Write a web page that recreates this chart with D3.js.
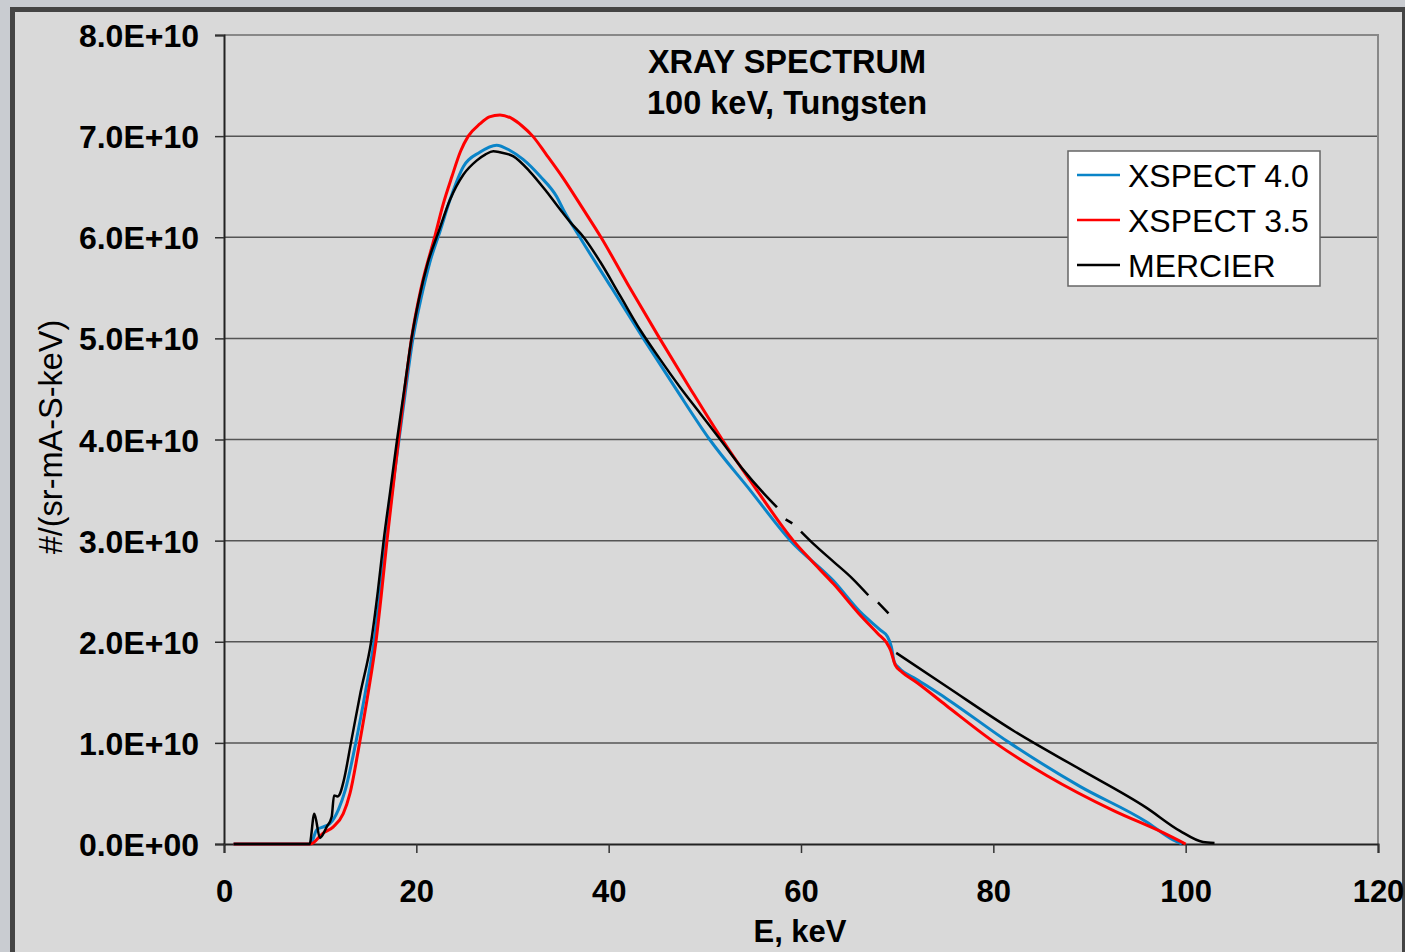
<!DOCTYPE html>
<html>
<head>
<meta charset="utf-8">
<script src="https://cdn.jsdelivr.net/npm/d3@7"></script>
<style>
  html, body { margin: 0; padding: 0; background: #c9ccd1; overflow: hidden; }
  svg { display: block; font-family: "Liberation Sans", Arial, sans-serif; }
</style>
</head>
<body>
<svg id="chart" width="1405" height="952"></svg>
<script>
// energies (keV) and intensities (#/(sr-mA-S-keV), in units of 1E+10)
const xspect40E = [1, 9.0, 9.64, 10.33, 11.0, 11.9, 12.6, 13.7, 14.7, 15.6, 16.25, 16.85, 17.5, 18.2, 18.9, 19.65, 20.5, 21.4, 22.5, 23.5, 24.9, 26.6, 28.35, 29.7, 31.1, 32.9, 34.6, 35.3, 37.0, 40.3, 43.6, 47.0, 50.5, 54.7, 58.9, 63.4, 66.1, 68.2, 69.0, 69.4, 69.7, 70.2, 72.0, 75.1, 81.7, 89.0, 95.9, 98.7, 99.6];
const xspect40V = [0, 0, 0.14, 0.17, 0.20, 0.34, 0.53, 1.0, 1.5, 2.0, 2.5, 3.0, 3.5, 4.0, 4.5, 5.0, 5.4, 5.75, 6.07, 6.37, 6.7, 6.84, 6.91, 6.86, 6.77, 6.6, 6.4, 6.27, 6.0, 5.5, 5.0, 4.5, 4.0, 3.5, 3.0, 2.6, 2.3, 2.12, 2.05, 1.95, 1.8, 1.74, 1.63, 1.44, 1.0, 0.57, 0.22, 0.04, 0];

const xspect35E = [1, 9.0, 10.33, 11.37, 12.4, 13.1, 14.1, 15.0, 15.8, 16.4, 16.95, 17.55, 18.15, 18.8, 19.5, 20.5, 21.9, 22.8, 23.7, 24.6, 25.4, 26.6, 27.6, 28.7, 30.0, 31.0, 32.1, 33.5, 35.3, 37.2, 39.2, 42.2, 45.3, 48.5, 51.8, 55.4, 59.2, 61.0, 63.4, 66.0, 68.0, 68.9, 69.3, 69.8, 70.5, 72.0, 75.1, 80.2, 85.5, 92.5, 97.7, 100.0];
const xspect35V = [0, 0, 0.11, 0.17, 0.30, 0.5, 1.0, 1.5, 2.0, 2.5, 3.0, 3.5, 4.0, 4.5, 5.0, 5.5, 6.0, 6.33, 6.6, 6.85, 7.0, 7.12, 7.19, 7.21, 7.17, 7.1, 7.0, 6.82, 6.58, 6.3, 6.0, 5.5, 5.0, 4.5, 4.0, 3.5, 3.0, 2.81, 2.57, 2.28, 2.08, 1.99, 1.92, 1.77, 1.70, 1.60, 1.37, 1.0, 0.68, 0.33, 0.11, 0];

// null = gap in the MERCIER trace
const mercierE = [1, 8.9, 9.39, 9.98, 10.68, 11.2, 11.44, 11.8, 12.07, 12.46, 13.2, 14.2, 15.3, 16.0, 16.6, 17.3, 18.0, 18.75, 19.5, 20.3, 21.2, 22.3, 23.5, 24.9, 26.3, 27.2, 28.0, 28.7, 30.1, 31.8, 33.55, 35.0, 36.0, 37.4, 39.1, 41.2, 43.3, 45.3, 47.4, 49.5, 51.6, 54.0, 56.1, 57.5, 58.0, 58.4, 59.1, 59.5, 60.0, 61.5, 63.4, 65.4, 67.0, 67.5, 68.0, 69.1, 69.5, 69.9, 75.1, 82.1, 89.0, 95.9, 99.4, 101.8, 103.0];
const mercierV = [0, 0, 0.30, 0.06, 0.17, 0.27, 0.48, 0.47, 0.50, 0.63, 1.0, 1.5, 2.0, 2.5, 3.0, 3.5, 4.0, 4.5, 5.0, 5.4, 5.75, 6.05, 6.37, 6.62, 6.76, 6.82, 6.85, 6.84, 6.8, 6.65, 6.45, 6.27, 6.15, 6.0, 5.76, 5.42, 5.08, 4.8, 4.52, 4.26, 4.0, 3.70, 3.47, 3.33, null, 3.21, 3.17, null, 3.09, 2.95, 2.79, 2.62, 2.46, null, 2.39, 2.28, null, 1.89, 1.56, 1.12, 0.74, 0.36, 0.13, 0.02, 0.01];

const seriesNames = ["XSPECT 4.0", "XSPECT 3.5", "MERCIER"];
const seriesColors = ["#0a84c8", "#ff0000", "#000000"];
const yTicks = [0, 1e10, 2e10, 3e10, 4e10, 5e10, 6e10, 7e10, 8e10];
const xTicks = [0, 20, 40, 60, 80, 100, 120];

const svg = d3.select("#chart");

// window frame
svg.append("rect").attr("x", 10).attr("y", 7).attr("width", 1395).attr("height", 945).attr("fill", "#444");
svg.append("rect").attr("x", 15).attr("y", 12).attr("width", 1387).attr("height", 940).attr("fill", "#d9d9d9");

const x = d3.scaleLinear().domain([0, 120]).range([224, 1378]);
const y = d3.scaleLinear().domain([0, 8e10]).range([844, 35]);

// gridlines
svg.append("g")
    .selectAll("line")
    .data(yTicks.slice(1, -1))
    .enter().append("line")
    .attr("x1", x(0)).attr("x2", x(120))
    .attr("y1", d => y(d)).attr("y2", d => y(d))
    .attr("stroke", "#555").attr("stroke-width", 1.5);

// plot border top / right
svg.append("path")
    .attr("d", `M${x(0)},${y(8e10)}H${x(120)}V${y(0)}`)
    .attr("fill", "none").attr("stroke", "#888").attr("stroke-width", 2);

const fmtY = d => d === 0 ? "0.0E+00" : (d / 1e10).toFixed(1) + "E+10";

const yAxis = svg.append("g")
    .attr("transform", `translate(${x(0)},0)`)
    .call(d3.axisLeft(y).tickValues(yTicks).tickFormat(fmtY).tickSize(9).tickPadding(16));
const xAxis = svg.append("g")
    .attr("transform", `translate(0,${y(0)})`)
    .call(d3.axisBottom(x).tickValues(xTicks).tickFormat(d3.format("d")).tickSize(9).tickPadding(27));

[yAxis, xAxis].forEach(a => {
    a.select(".domain").attr("stroke", "#222").attr("stroke-width", 2);
    a.selectAll(".tick line").attr("stroke", "#333").attr("stroke-width", 1.5);
    a.selectAll("text")
        .attr("fill", "#000")
        .style("font-family", "'Liberation Sans', Arial, sans-serif")
        .style("font-size", "31px")
        .style("font-weight", "bold");
});
yAxis.selectAll("text").attr("dy", "0.36em").style("font-size", "32px");
xAxis.selectAll("text").attr("dy", "0.71em");

// series
const toPoints = (E, V) => E.map((e, i) => [e, V[i] === null ? null : V[i] * 1e10]);
const series = [
    toPoints(xspect40E, xspect40V),
    toPoints(xspect35E, xspect35V),
    toPoints(mercierE, mercierV)
];

const line = d3.line()
    .defined(d => d[1] !== null)
    .x(d => x(d[0]))
    .y(d => y(d[1]))
    .curve(d3.curveMonotoneX);

svg.append("g")
    .selectAll("path")
    .data(series)
    .enter().append("path")
    .attr("d", line)
    .attr("fill", "none")
    .attr("stroke", (d, i) => seriesColors[i])
    .attr("stroke-width", (d, i) => i === 2 ? 2.5 : 3)
    .attr("stroke-linejoin", "round");

// titles
const title = svg.append("text")
    .attr("x", 787).attr("text-anchor", "middle")
    .style("font-size", "32.5px").style("font-weight", "bold");
title.append("tspan").attr("x", 787).attr("y", 73).text("XRAY SPECTRUM");
title.append("tspan").attr("x", 787).attr("y", 114).text("100 keV, Tungsten");

svg.append("text")
    .attr("x", 800).attr("y", 942).attr("text-anchor", "middle")
    .style("font-size", "31px").style("font-weight", "bold")
    .text("E, keV");

svg.append("text")
    .attr("transform", "translate(62,437) rotate(-90)")
    .attr("text-anchor", "middle")
    .style("font-size", "32.5px")
    .text("#/(sr-mA-S-keV)");

// legend
const legend = svg.append("g").attr("transform", "translate(1068,151)");
legend.append("rect")
    .attr("width", 252).attr("height", 135)
    .attr("fill", "#fff").attr("stroke", "#666").attr("stroke-width", 1.5);
const items = legend.selectAll(".item")
    .data(seriesNames)
    .enter().append("g")
    .attr("class", "item")
    .attr("transform", (d, i) => `translate(0,${24 + i * 45})`);
items.append("line")
    .attr("x1", 9).attr("x2", 52)
    .attr("stroke", (d, i) => seriesColors[i]).attr("stroke-width", 2.5);
items.append("text")
    .attr("x", 60).attr("dy", "0.36em")
    .style("font-size", "32px")
    .text(d => d);
</script>
</body>
</html>
